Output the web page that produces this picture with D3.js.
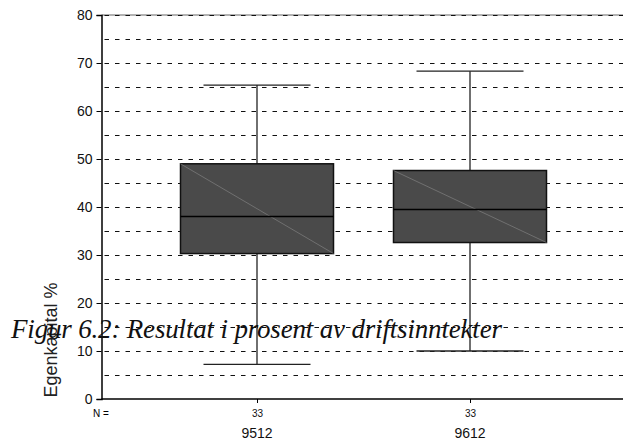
<!DOCTYPE html>
<html>
<head>
<meta charset="utf-8">
<script src="https://cdn.jsdelivr.net/npm/d3@7"></script>
<style>
  body { margin: 0; background: #fff; }
  svg { display: block; }
</style>
</head>
<body>
<svg id="chart" width="623" height="441"></svg>
<script>
// data
var categories = ["9512", "9612"];
var counts = [33, 33];
var whiskerLow = [7.2, 10.0];
var q1 = [30.3, 32.6];
var median = [38.0, 39.5];
var q3 = [49.0, 47.6];
var whiskerHigh = [65.4, 68.3];
var yTicks = [0, 10, 20, 30, 40, 50, 60, 70, 80];
var gridValues = d3.range(5, 81, 5);

var svg = d3.select("#chart");
var plotLeft = 101.5, plotRight = 623, plotTop = 15, plotBottom = 399;

var y = d3.scaleLinear().domain([0, 80]).range([plotBottom, plotTop]);
var x = d3.scalePoint().domain(categories).range([257, 470]);
var boxW = 153, capW = 107;

var rows = categories.map(function (c, i) {
  return { cat: c, n: counts[i], lo: whiskerLow[i], q1: q1[i], med: median[i], q3: q3[i], hi: whiskerHigh[i] };
});

// dashed grid
var grid = svg.append("g");
grid.append("line")
  .attr("x1", plotLeft).attr("x2", plotRight)
  .attr("y1", y(80)).attr("y2", y(80))
  .attr("stroke", "#999").attr("stroke-width", 1.5);
grid.selectAll("line.g")
  .data(gridValues)
  .enter()
  .append("line")
  .attr("class", "g")
  .attr("x1", plotLeft + 3).attr("x2", plotRight)
  .attr("y1", function (d) { return Math.round(y(d)) + 0.5; })
  .attr("y2", function (d) { return Math.round(y(d)) + 0.5; })
  .attr("stroke", "#111")
  .attr("stroke-width", 1.2)
  .attr("stroke-dasharray", "4.5,6");

// whiskers
var wh = svg.append("g").attr("stroke", "#222").attr("stroke-width", 1.3);
wh.selectAll("line.v")
  .data(rows)
  .enter()
  .append("line")
  .attr("class", "v")
  .attr("x1", function (d) { return x(d.cat); })
  .attr("x2", function (d) { return x(d.cat); })
  .attr("y1", function (d) { return y(d.lo); })
  .attr("y2", function (d) { return y(d.hi); });
["lo", "hi"].forEach(function (k) {
  wh.selectAll("line.c" + k)
    .data(rows)
    .enter()
    .append("line")
    .attr("class", "c" + k)
    .attr("x1", function (d) { return x(d.cat) - capW / 2; })
    .attr("x2", function (d) { return x(d.cat) + capW / 2; })
    .attr("y1", function (d) { return y(d[k]); })
    .attr("y2", function (d) { return y(d[k]); });
});

// boxes
var boxes = svg.append("g");
boxes.selectAll("rect")
  .data(rows)
  .enter()
  .append("rect")
  .attr("x", function (d) { return x(d.cat) - boxW / 2; })
  .attr("y", function (d) { return y(d.q3); })
  .attr("width", boxW)
  .attr("height", function (d) { return y(d.q1) - y(d.q3); })
  .attr("fill", "#4a4a4a")
  .attr("stroke", "#111")
  .attr("stroke-width", 1.5);
boxes.selectAll("line.diag")
  .data(rows)
  .enter()
  .append("line")
  .attr("class", "diag")
  .attr("x1", function (d) { return x(d.cat) - boxW / 2; })
  .attr("x2", function (d) { return x(d.cat) + boxW / 2; })
  .attr("y1", function (d) { return y(d.q3); })
  .attr("y2", function (d) { return y(d.q1); })
  .attr("stroke", "#8a8a8a")
  .attr("stroke-width", 0.6);
boxes.selectAll("line.med")
  .data(rows)
  .enter()
  .append("line")
  .attr("class", "med")
  .attr("x1", function (d) { return x(d.cat) - boxW / 2; })
  .attr("x2", function (d) { return x(d.cat) + boxW / 2; })
  .attr("y1", function (d) { return y(d.med); })
  .attr("y2", function (d) { return y(d.med); })
  .attr("stroke", "#000")
  .attr("stroke-width", 1.5);

// axes
var yAxis = svg.append("g")
  .attr("transform", "translate(" + plotLeft + ",0)")
  .call(d3.axisLeft(y).tickValues(yTicks).tickSize(5).tickPadding(4));
yAxis.select(".domain").attr("stroke", "#000").attr("stroke-width", 1.5);
yAxis.selectAll("text").attr("font-family", "Arial, 'Liberation Sans', sans-serif").attr("font-size", 14).attr("fill", "#111");

var xAxis = svg.append("g")
  .attr("transform", "translate(0," + plotBottom + ")")
  .call(d3.axisBottom(x).tickSize(4).tickFormat(function (d, i) { return counts[i]; }).tickPadding(7));
xAxis.select(".domain").attr("d", "M" + plotLeft + ",0H" + plotRight).attr("stroke", "#000").attr("stroke-width", 1.5);
xAxis.selectAll("text").attr("font-family", "Arial, 'Liberation Sans', sans-serif").attr("font-size", 10).attr("fill", "#111");

svg.append("text")
  .attr("x", 101).attr("y", 417)
  .attr("text-anchor", "middle")
  .attr("font-family", "Arial, 'Liberation Sans', sans-serif")
  .attr("font-size", 10)
  .text("N =");

svg.append("g")
  .selectAll("text")
  .data(categories)
  .enter()
  .append("text")
  .attr("x", function (d) { return x(d); })
  .attr("y", 438)
  .attr("text-anchor", "middle")
  .attr("font-family", "Arial, 'Liberation Sans', sans-serif")
  .attr("font-size", 14)
  .attr("fill", "#111")
  .text(function (d) { return d; });

svg.append("text")
  .attr("transform", "translate(57,340) rotate(-90)")
  .attr("text-anchor", "middle")
  .attr("font-family", "Arial, 'Liberation Sans', sans-serif")
  .attr("font-size", 18)
  .attr("fill", "#222")
  .text("Egenkapital %");

svg.append("text")
  .attr("x", 11).attr("y", 338)
  .attr("font-family", "'Liberation Serif', 'Times New Roman', serif")
  .attr("font-style", "italic")
  .attr("font-size", 27)
  .attr("fill", "#111")
  .attr("textLength", 491)
  .attr("lengthAdjust", "spacing")
  .text("Figur 6.2: Resultat i prosent av driftsinntekter");
</script>
</body>
</html>
